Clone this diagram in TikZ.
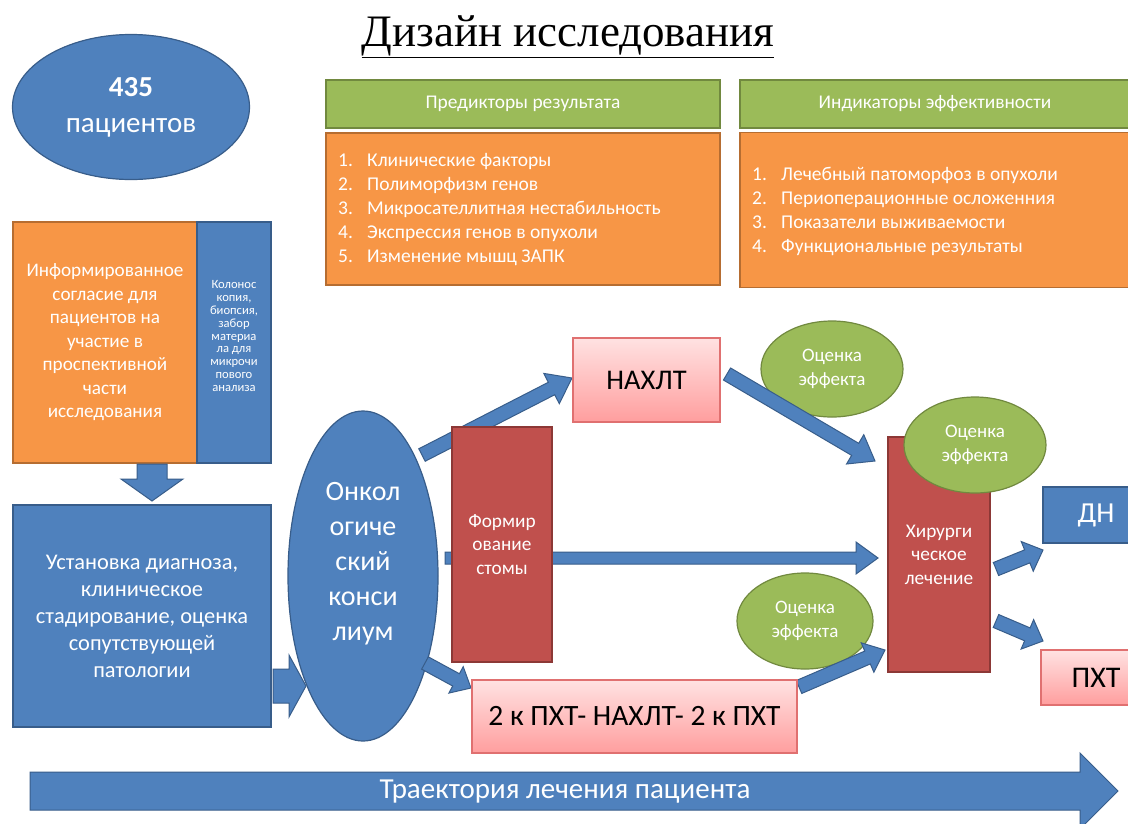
\documentclass[tikz,border=0pt]{standalone}
\usepackage{fontspec}
\setmainfont{Carlito}
\newfontfamily\titlefont{Liberation Serif}
\usetikzlibrary{calc,shapes.geometric}
\definecolor{obl}{HTML}{4F81BD}
\definecolor{oblD}{HTML}{385D8A}
\definecolor{oor}{HTML}{F79646}
\definecolor{oorD}{HTML}{B66D31}
\definecolor{ogr}{HTML}{9BBB59}
\definecolor{ogrD}{HTML}{71893F}
\definecolor{ore}{HTML}{C0504D}
\definecolor{oreD}{HTML}{8C3836}
\definecolor{pkT}{HTML}{FFE2E2}
\definecolor{pkB}{HTML}{FF9E9E}
\definecolor{pkD}{HTML}{E07070}
\newcommand{\blockarr}[5]{%
  \draw[barrow] let \p1=($(#2)-(#1)$), \n1={atan2(\y1,\x1)}, \n2={veclen(\x1,\y1)} in
    [shift={(#1)}, rotate=\n1]
    (0pt,#3pt) -- ({(\n2-#5)*1pt},#3pt) -- ({(\n2-#5)*1pt},#4pt) -- ({\n2*1pt},0pt)
    -- ({(\n2-#5)*1pt},-#4pt) -- ({(\n2-#5)*1pt},-#3pt) -- (0pt,-#3pt) -- cycle;}
\begin{document}
\begin{tikzpicture}[x=1pt,y=-1pt,
  barrow/.style={fill=obl,draw=oblD,line width=1pt,line join=miter},
  bluebox/.style={rectangle,fill=obl,draw=oblD,line width=1.2pt,inner sep=0pt,text=white,align=center},
  orbox/.style={rectangle,fill=oor,draw=oorD,line width=1.2pt,inner sep=0pt,text=white,align=center},
  grbox/.style={rectangle,fill=ogr,draw=ogrD,line width=1.2pt,inner sep=0pt,text=white,align=center,font=\fontsize{19.4}{22}\selectfont},
  redbox/.style={rectangle,fill=ore,draw=oreD,line width=1.2pt,inner sep=0pt,text=white,align=center,font=\fontsize{19.3}{23.5}\selectfont},
  pinkbox/.style={rectangle,top color=pkT,bottom color=pkB,draw=pkD,line width=1.2pt,inner sep=0pt,text=black,align=center},
  blueell/.style={ellipse,fill=obl,draw=oblD,line width=1.2pt,inner sep=0pt,text=white,align=center},
  greenell/.style={ellipse,fill=ogr,draw=ogrD,line width=1.2pt,inner sep=0pt,text=white,align=center,font=\fontsize{19}{24}\selectfont,minimum width=142pt,minimum height=96pt},
  wtxt/.style={text=white,align=center,inner sep=0pt},
  listtxt/.style={anchor=west,text=white,align=left,inner sep=0pt,font=\fontsize{19.5}{24}\selectfont}]
\useasboundingbox (0,0) rectangle (1128,823);
\fill[white] (0,0) rectangle (1128,823);

% title
\node (title) at (568,37) {\titlefont\fontsize{45}{50}\selectfont\underline{Дизайн исследования}};

% 435 patients
\node[blueell,minimum width=237pt,minimum height=145pt,font=\fontsize{29}{36}\selectfont] (pat) at (131,107) {\textbf{435}\\пациентов};

% header boxes
\node[grbox,minimum width=394pt,minimum height=48pt] (pred) at (523,104) {Предикторы результата};
\node[orbox,minimum width=394pt,minimum height=152pt] (predL) at (523,209) {};
\node[listtxt] (predT) at (338,210) {\makebox[29pt][l]{1.}Клинические факторы\\
\makebox[29pt][l]{2.}Полиморфизм генов\\
\makebox[29pt][l]{3.}Микросателлитная нестабильность\\
\makebox[29pt][l]{4.}Экспрессия генов в опухоли\\
\makebox[29pt][l]{5.}Изменение мышц ЗАПК};
\node[grbox,minimum width=390pt,minimum height=48pt] (ind) at (935,104) {Индикаторы эффективности};
\node[orbox,minimum width=390pt,minimum height=155pt] (indL) at (935,210) {};
\node[listtxt] (indT) at (752,211) {\makebox[29pt][l]{1.}Лечебный патоморфоз в опухоли\\
\makebox[29pt][l]{2.}Периоперационные осложенния\\
\makebox[29pt][l]{3.}Показатели выживаемости\\
\makebox[29pt][l]{4.}Функциональные результаты};

% left column
\node[orbox,minimum width=184pt,minimum height=241pt,font=\fontsize{19.2}{23.5}\selectfont] (inf) at (105,342.5) {Информированное\\согласие для\\пациентов на\\участие в\\проспективной\\части\\исследования};
\node[bluebox,minimum width=74pt,minimum height=241pt] (colon) at (234,342.5) {};
\node[wtxt,font=\fontsize{12.6}{12.8}\selectfont] (colonT) at (234,336) {Колонос\\копия,\\биопсия,\\забор\\материа\\ла для\\микрочи\\пового\\анализа};
\node[bluebox,minimum width=258pt,minimum height=222pt,font=\fontsize{22.4}{27}\selectfont] (diag) at (142,616) {Установка диагноза,\\клиническое\\стадирование, оценка\\сопутствующей\\патологии};

\coordinate (a9s) at (152,464);
\coordinate (a9e) at (152,501);
\blockarr{a9s}{a9e}{15}{31}{22}
\coordinate (a8s) at (273,686);
\coordinate (a8e) at (306,686);
\blockarr{a8s}{a8e}{17}{31}{17}

% council
\node[blueell,minimum width=150pt,minimum height=330pt] (onc) at (363,576) {};
\node[wtxt,font=\fontsize{28}{35}\selectfont] (oncT) at (363,564) {Онкол\\огиче\\ский\\конси\\лиум};

% green ellipses behind arrows
\node[greenell] (ev1) at (832,369) {Оценка\\эффекта};
\node[greenell,minimum width=136pt] (ev3) at (805,621) {Оценка\\эффекта};

% arrows
\coordinate (a1s) at (422,455);
\coordinate (a1e) at (572,378);
\blockarr{a1s}{a1e}{7}{17}{23}
\coordinate (a2s) at (445,558);
\coordinate (a2e) at (878,558);
\blockarr{a2s}{a2e}{6}{16}{22}
\coordinate (a3s) at (425,663);
\coordinate (a3e) at (471,688);
\blockarr{a3s}{a3e}{7}{15}{17}
\coordinate (a4s) at (727,374);
\coordinate (a4e) at (875,461);
\blockarr{a4s}{a4e}{7}{17}{23}
\coordinate (a5s) at (799,687);
\coordinate (a5e) at (885,650);
\blockarr{a5s}{a5e}{7}{16}{19}
\coordinate (a6s) at (996,569);
\coordinate (a6e) at (1043,550);
\blockarr{a6s}{a6e}{7}{16}{17}
\coordinate (a7s) at (996,621);
\coordinate (a7e) at (1043,641);
\blockarr{a7s}{a7e}{7}{16}{17}

% boxes
\node[redbox,minimum width=100pt,minimum height=235pt] (stoma) at (502,544.5) {Формир\\ование\\стомы};
\node[pinkbox,minimum width=147pt,minimum height=84pt,font=\fontsize{28.5}{32}\selectfont] (nahlt) at (646.5,380) {НАХЛТ};
\node[pinkbox,minimum width=325pt,minimum height=73pt,font=\fontsize{29.5}{33}\selectfont] (pxt2) at (634.5,716.5) {2 к ПХТ- НАХЛТ- 2 к ПХТ};
\node[redbox,minimum width=102pt,minimum height=235pt] (surg) at (939,554.5) {Хирурги\\ческое\\лечение};
\node[greenell] (ev2) at (975,445) {Оценка\\эффекта};
\node[bluebox,minimum width=106pt,minimum height=56pt,font=\fontsize{29}{32}\selectfont] (dn) at (1096,515) {ДН};
\node[pinkbox,minimum width=110pt,minimum height=55pt,font=\fontsize{30}{33}\selectfont] (pxt) at (1096,677.5) {ПХТ};

% trajectory arrow
\coordinate (trs) at (30,791);
\coordinate (tre) at (1118,791);
\blockarr{trs}{tre}{19}{38}{38}
\node[text=white,font=\fontsize{29}{32}\selectfont] (trt) at (565,792) {Траектория лечения пациента};
\end{tikzpicture}
\end{document}
